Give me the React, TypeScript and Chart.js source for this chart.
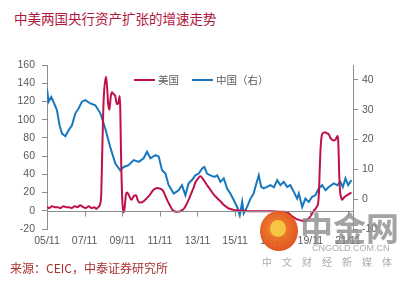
import React, { useEffect, useRef } from "react";
import { Chart, registerables } from "chart.js";

Chart.register(...registerables);

// ---- Data (decimal years) ----
const usDates = [
  2005.83, 2005.95, 2006.1, 2006.25, 2006.4, 2006.55, 2006.7, 2006.85, 2007.0, 2007.15,
  2007.3, 2007.45, 2007.6, 2007.75, 2007.9, 2008.05, 2008.2, 2008.35, 2008.45, 2008.55,
  2008.65, 2008.72, 2008.76, 2008.84, 2008.97, 2009.03, 2009.08, 2009.15, 2009.22, 2009.29,
  2009.38, 2009.46, 2009.55, 2009.62, 2009.7, 2009.73, 2009.77, 2009.84, 2009.91, 2009.97,
  2010.03, 2010.09, 2010.19, 2010.32, 2010.44, 2010.57, 2010.65, 2010.74, 2010.85, 2010.97,
  2011.1, 2011.24, 2011.38, 2011.5, 2011.68, 2011.82, 2011.95, 2012.05, 2012.13, 2012.26,
  2012.39, 2012.5, 2012.6, 2012.72, 2012.83, 2012.95, 2013.1, 2013.22, 2013.36, 2013.5,
  2013.62, 2013.72, 2013.85, 2013.99, 2014.12, 2014.25, 2014.38, 2014.52, 2014.65, 2014.78,
  2014.92, 2015.05, 2015.18, 2015.32, 2015.45, 2015.58, 2015.75, 2015.94, 2016.27, 2016.8,
  2017.3, 2017.8, 2018.2, 2018.5, 2018.7, 2018.86, 2019.05, 2019.22, 2019.4, 2019.57,
  2019.72, 2019.84, 2019.93, 2020.01, 2020.1, 2020.19, 2020.25, 2020.29, 2020.33, 2020.37,
  2020.42, 2020.46, 2020.55, 2020.64, 2020.72, 2020.81, 2020.9, 2020.99, 2021.08, 2021.17,
  2021.24, 2021.29, 2021.32, 2021.36, 2021.4, 2021.43, 2021.48, 2021.52, 2021.6, 2021.7,
  2021.85, 2022.02,
];
const usValues = [
  4, 3, 5, 4, 4, 3, 5, 4, 4, 3,
  5, 4, 6, 4, 3, 5, 3, 4, 2, 4,
  7, 20, 56, 119, 147, 135, 118, 111, 125, 130,
  128, 126, 117, 118, 126, 110, 60, 10, -2, 5,
  18, 20, 17, 12, 16, 17, 12, 9, 9, 10.5,
  13, 16, 20, 23, 25, 24.5, 23, 20, 16, 10,
  5, 1, -0.5, -1, -1, 0, 2, 6, 12, 19,
  25, 31, 35, 38, 35, 31, 27, 23, 19, 16,
  13, 10.5, 7.5, 5, 3, 2, 1, 0.5, 0, -0.5,
  -0.5, -0.5, -1, -1, -3, -6, -8.5, -10, -11, -11.5,
  -9, -6, -3, 0, 2, 5, 9, 20, 45, 66,
  80, 84, 86, 86, 85, 84, 80, 78, 77, 78,
  81, 82, 75, 45, 25, 18, 14, 12, 14, 16,
  18, 20,
];

const cnDates = [
  2005.83, 2005.92, 2006.06, 2006.18, 2006.36, 2006.5, 2006.63, 2006.81, 2006.98, 2007.16,
  2007.34, 2007.51, 2007.69, 2007.87, 2008.14, 2008.4, 2008.67, 2008.93, 2009.19, 2009.46,
  2009.72, 2009.91, 2010.17, 2010.44, 2010.71, 2010.97, 2011.15, 2011.33, 2011.59, 2011.77,
  2011.95, 2012.13, 2012.3, 2012.57, 2012.83, 2013.01, 2013.19, 2013.36, 2013.55, 2013.72,
  2013.9, 2014.08, 2014.2, 2014.34, 2014.52, 2014.73, 2014.88, 2015.05, 2015.23, 2015.41,
  2015.58, 2015.76, 2015.94, 2016.08, 2016.21, 2016.29, 2016.47, 2016.65, 2016.82, 2016.91,
  2017.09, 2017.22, 2017.35, 2017.53, 2017.71, 2017.9, 2018.07, 2018.24, 2018.42, 2018.6,
  2018.77, 2018.95, 2019.13, 2019.22, 2019.4, 2019.57, 2019.75, 2019.93, 2020.1, 2020.28,
  2020.46, 2020.64, 2020.81, 2021.08, 2021.26, 2021.43, 2021.56, 2021.7, 2021.84, 2022.02,
];
const cnValues = [
  37, 32.7, 34.3, 32.6, 29.9, 24.8, 22, 21.1, 23.1, 24.8,
  28.8, 30.4, 32.7, 33.2, 32.1, 31.5, 28.8, 23.7, 17.6, 12,
  9.7, 10.8, 11.4, 13.1, 12.5, 13.7, 15.9, 13.7, 14.8, 14.3,
  9.7, 8.6, 4.7, 1.9, 3, 4.7, 1.3, 5.3, 6.5, 8,
  8.6, 10.3, 10.8, 8.6, 8, 7.5, 8, 5.8, 7, 3.6,
  1.9, -0.3, -2.6, -5.4, -0.9, -4.8, -2.6, 0.2, 1.9, 4.1,
  8, 4.1, 3.6, 4.1, 4.7, 4, 6.4, 4.7, 5.8, 4.1,
  4.7, 2.5, 0.2, 1.9, -2.6, 0.2, -0.9, 0.8, 1.3, 3.6,
  4.7, 3, 4.1, 5.3, 4.7, 5.8, 4.1, 7, 4.7, 6.4,
];

const xTickValues = [2005.833, 2007.833, 2009.833, 2011.833, 2013.833, 2015.833, 2017.833, 2019.833, 2021.833];
const xTickLabels = ["05/11", "07/11", "09/11", "11/11", "13/11", "15/11", "17/11", "19/11", "21/11"];

const seriesNames = ["美国", "中国（右）"];
const titleText = "中美两国央行资产扩张的增速走势";
const sourceText = "来源：CEIC，中泰证券研究所";

const RED = "#C0104A";
const BLUE = "#1878BE";
const AXIS = "#8C8C8C";
const TICK_TEXT = "#595959";

const zeroAxisPlugin = {
  id: "zeroAxis",
  afterDatasetsDraw(chart: any) {
    const { ctx, chartArea, scales } = chart;
    const y = Math.round(scales.yL.getPixelForValue(0)) + 0.5;
    ctx.save();
    ctx.strokeStyle = AXIS;
    ctx.lineWidth = 1;
    ctx.beginPath();
    ctx.moveTo(chartArea.left, y);
    ctx.lineTo(chartArea.right, y);
    xTickValues.forEach((v) => {
      const x = Math.round(scales.x.getPixelForValue(v)) + 0.5;
      ctx.moveTo(x, y);
      ctx.lineTo(x, y + 5);
    });
    ctx.stroke();
    ctx.restore();
  },
};

function ChartCanvas() {
  const ref = useRef<HTMLCanvasElement | null>(null);
  useEffect(() => {
    if (!ref.current) return;
    const tickFont = { family: "'Liberation Sans', Arial, sans-serif", size: 10.5 };
    const chart = new Chart(ref.current, {
      type: "line",
      data: {
        datasets: [
          {
            label: seriesNames[0],
            data: usDates.map((d, i) => ({ x: d, y: usValues[i] })),
            borderColor: RED,
            backgroundColor: RED,
            borderWidth: 2,
            pointRadius: 0,
            cubicInterpolationMode: "monotone",
            yAxisID: "yL",
          },
          {
            label: seriesNames[1],
            data: cnDates.map((d, i) => ({ x: d, y: cnValues[i] })),
            borderColor: BLUE,
            backgroundColor: BLUE,
            borderWidth: 2,
            pointRadius: 0,
            tension: 0,
            yAxisID: "yR",
          },
        ],
      },
      plugins: [zeroAxisPlugin],
      options: {
        responsive: false,
        animation: false,
        devicePixelRatio: 1,
        layout: { padding: { top: 65, left: 0, right: 0, bottom: 0 } },
        plugins: {
          legend: { display: false },
          title: { display: false },
          tooltip: { enabled: false },
        },
        scales: {
          x: {
            type: "linear",
            min: 2005.833,
            max: 2022.1,
            afterBuildTicks: (scale: any) => {
              scale.ticks = xTickValues.map((v) => ({ value: v }));
            },
            afterFit: (scale: any) => {
              scale.height = 53;
            },
            grid: { display: false, drawTicks: false },
            border: { display: false },
            ticks: {
              autoSkip: false,
              maxRotation: 0,
              padding: 6,
              color: TICK_TEXT,
              font: tickFont,
              callback: (v: any) => {
                const i = xTickValues.findIndex((t) => Math.abs(t - Number(v)) < 0.01);
                return i >= 0 ? xTickLabels[i] : "";
              },
            },
          },
          yL: {
            type: "linear",
            position: "left",
            min: -20,
            max: 160,
            afterFit: (scale: any) => {
              scale.width = 47;
            },
            grid: { display: true, drawOnChartArea: false, drawTicks: true, tickLength: 5, color: AXIS },
            border: { display: true, color: AXIS },
            ticks: { stepSize: 20, padding: 7, color: TICK_TEXT, font: tickFont },
          },
          yR: {
            type: "linear",
            position: "right",
            min: -10,
            max: 45,
            afterFit: (scale: any) => {
              scale.width = 63;
            },
            grid: { display: true, drawOnChartArea: false, drawTicks: true, tickLength: 5, color: AXIS },
            border: { display: true, color: AXIS },
            ticks: { stepSize: 5, padding: 4, color: TICK_TEXT, font: tickFont },
          },
        },
      },
    } as any);
    return () => chart.destroy();
  }, []);
  return (
    <canvas
      ref={ref}
      width={416}
      height={282}
      style={{ position: "absolute", left: 0, top: 0, width: 416, height: 282 }}
    />
  );
}

const cjk = "'Noto Sans CJK SC', 'Noto Sans', sans-serif";

export default function App() {
  return (
    <div
      style={{
        position: "fixed",
        left: 0,
        top: 0,
        width: 416,
        height: 282,
        background: "#fff",
        overflow: "hidden",
      }}
    >
      <div
        style={{
          position: "absolute",
          left: 14,
          top: 11,
          fontFamily: cjk,
          fontSize: 13.5,
          lineHeight: "15px",
          color: "#B0173C",
          whiteSpace: "nowrap",
        }}
      >
        {titleText}
      </div>
      <ChartCanvas />
      {/* legend */}
      <div style={{ position: "absolute", left: 134, top: 79, width: 21, height: 2, background: RED }} />
      <div
        style={{
          position: "absolute",
          left: 158,
          top: 73,
          fontFamily: cjk,
          fontSize: 10.5,
          lineHeight: "13px",
          color: TICK_TEXT,
          whiteSpace: "nowrap",
        }}
      >
        {seriesNames[0]}
      </div>
      <div style={{ position: "absolute", left: 192, top: 79, width: 21, height: 2, background: BLUE }} />
      <div
        style={{
          position: "absolute",
          left: 216,
          top: 73,
          fontFamily: cjk,
          fontSize: 10.5,
          lineHeight: "13px",
          color: TICK_TEXT,
          whiteSpace: "nowrap",
        }}
      >
        {seriesNames[1]}
      </div>
      {/* watermark */}
      <div
        style={{
          position: "absolute",
          left: 260,
          top: 211,
          width: 38,
          height: 40,
          borderRadius: "50%",
          background: "radial-gradient(circle at 45% 45%, #F08A24 0%, #E4551B 60%, #D23A14 100%)",
          opacity: 0.95,
        }}
      >
        <div
          style={{
            position: "absolute",
            left: 10,
            top: 9,
            width: 16,
            height: 17,
            borderRadius: "50%",
            background: "#F7C23A",
          }}
        />
      </div>
      <div
        style={{
          position: "absolute",
          left: 300,
          top: 208,
          fontFamily: cjk,
          fontWeight: 700,
          fontSize: 33,
          lineHeight: "38px",
          color: "rgba(140,140,140,0.8)",
          whiteSpace: "nowrap",
        }}
      >
        中金网
      </div>
      <div
        style={{
          position: "absolute",
          left: 312,
          top: 243,
          fontFamily: "'Liberation Sans', Arial, sans-serif",
          fontSize: 9,
          lineHeight: "10px",
          color: "rgba(150,150,150,0.8)",
          whiteSpace: "nowrap",
        }}
      >
        CNGOLD.COM.CN
      </div>
      <div
        style={{
          position: "absolute",
          left: 262,
          top: 256,
          fontFamily: cjk,
          fontSize: 10,
          lineHeight: "12px",
          letterSpacing: "10px",
          color: "rgba(150,150,150,0.8)",
          whiteSpace: "nowrap",
        }}
      >
        中文财经新媒体
      </div>
      <div
        style={{
          position: "absolute",
          left: 10,
          top: 261,
          fontFamily: cjk,
          fontSize: 12,
          lineHeight: "14px",
          color: "#A8302F",
          whiteSpace: "nowrap",
        }}
      >
        {sourceText}
      </div>
    </div>
  );
}
